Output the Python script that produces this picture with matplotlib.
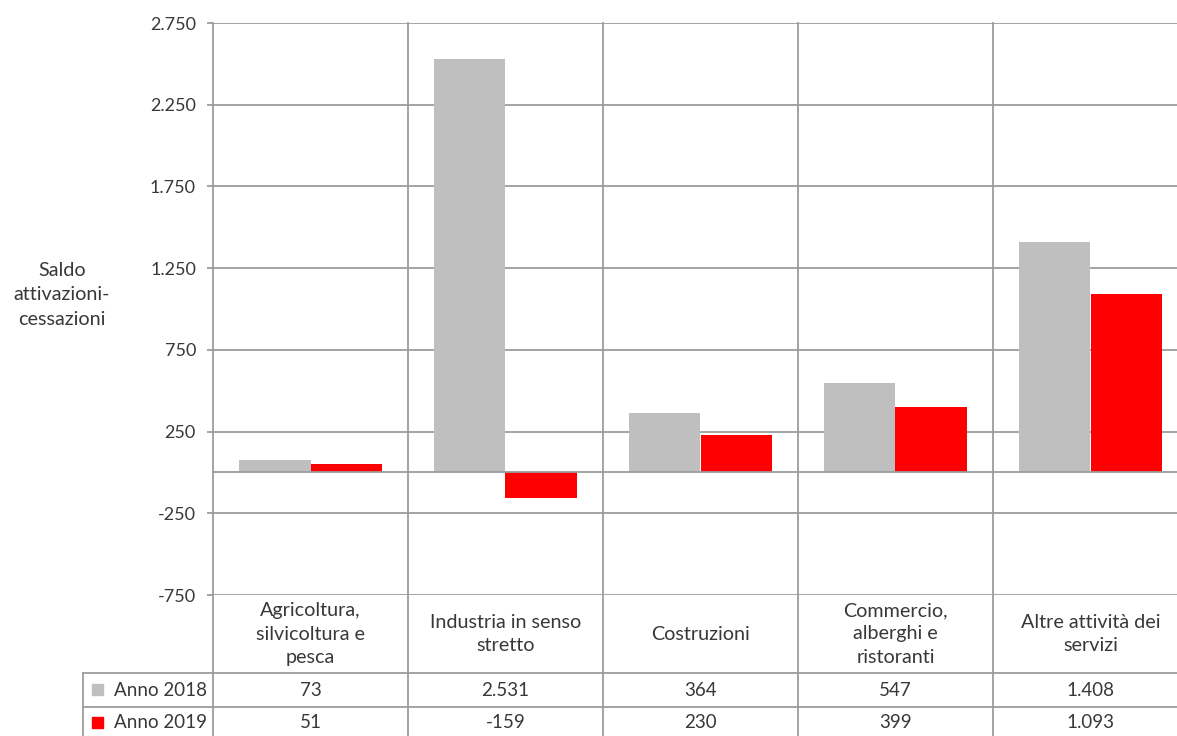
import matplotlib.pyplot as plt
from matplotlib.patches import Rectangle
from matplotlib.transforms import blended_transform_factory

# Saldo attivazioni-cessazioni per settore, anni 2018 e 2019
settori = [
    "Agricoltura,\nsilvicoltura e\npesca",
    "Industria in senso\nstretto",
    "Costruzioni",
    "Commercio,\nalberghi e\nristoranti",
    "Altre attività dei\nservizi",
]
serie = ["Anno 2018", "Anno 2019"]
anno_2018 = [73, 2531, 364, 547, 1408]
anno_2019 = [51, -159, 230, 399, 1093]
yticks = [-750, -250, 250, 750, 1250, 1750, 2250, 2750]

colori = ["#bfbfbf", "#ff0000"]
grigio_linee = "#9c9c9c"
colore_testo = "#383838"
W, H = 1177, 736

plt.rcParams["font.family"] = ["Lato", "DejaVu Sans"]


def fmt(v):
    # separatore delle migliaia all'italiana
    return f"{v:,}".replace(",", ".")


def fx(px):
    return px / W


def fy(px):
    return 1 - px / H


fig = plt.figure(figsize=(W / 100, H / 100), dpi=100)
ax = fig.add_axes([fx(213), fy(595), fx(1188) - fx(213), fy(23) - fy(595)])

n = len(settori)
larghezza = 0.365
for i in range(n):
    ax.bar(i + 0.5 - larghezza / 2, anno_2018[i], larghezza, color=colori[0], zorder=3)
    ax.bar(i + 0.5 + larghezza / 2, anno_2019[i], larghezza, color=colori[1], zorder=3)

ax.set_xlim(0, n)
ax.set_ylim(yticks[0], yticks[-1])
ax.set_yticks(yticks)
ax.set_yticklabels([fmt(t) for t in yticks], fontsize=13, color=colore_testo)
ax.set_xticks([])
ax.tick_params(axis="y", length=4.3, width=1.3, color=grigio_linee, pad=8)
ax.yaxis.grid(True, color=grigio_linee, lw=1.3, zorder=0)
ax.axhline(0, color=grigio_linee, lw=1.3, zorder=4)
for s in ax.spines.values():
    s.set_visible(False)

# linee verticali tra i settori, proseguono nella tabella dati
trans = blended_transform_factory(ax.transData, fig.transFigure)
for i in range(n + 1):
    ax.plot([i, i], [fy(23), 0], color=grigio_linee, lw=1.3,
            transform=trans, clip_on=False, zorder=1)

# tabella dati sotto il grafico
for ypx in (673, 707):
    fig.add_artist(plt.Line2D([fx(83), 1], [fy(ypx), fy(ypx)],
                              color=grigio_linee, lw=1.3))
fig.add_artist(plt.Line2D([fx(83), fx(83)], [fy(673), 0],
                          color=grigio_linee, lw=1.3))

for i, nome in enumerate(settori):
    ax.text(i + 0.5, fy(634), nome, transform=trans, ha="center", va="center",
            fontsize=14.2, color=colore_testo, linespacing=1.45)
    ax.text(i + 0.5, fy(690), fmt(anno_2018[i]), transform=trans,
            ha="center", va="center", fontsize=13.5, color=colore_testo)
    ax.text(i + 0.5, fy(723), fmt(anno_2019[i]), transform=trans,
            ha="center", va="center", fontsize=13.5, color=colore_testo)

for nome, col, ypx in zip(serie, colori, (690, 723)):
    fig.add_artist(Rectangle((fx(92), fy(ypx + 5)), fx(11), fy(0) - fy(11),
                             transform=fig.transFigure, color=col))
    fig.text(fx(114), fy(ypx), nome, ha="left", va="center",
             fontsize=13.5, color=colore_testo)

fig.text(fx(62), fy(295), "Saldo\nattivazioni-\ncessazioni", ha="center",
         va="center", fontsize=14.2, color=colore_testo, linespacing=1.55)

fig.savefig("out.png", dpi=100)
